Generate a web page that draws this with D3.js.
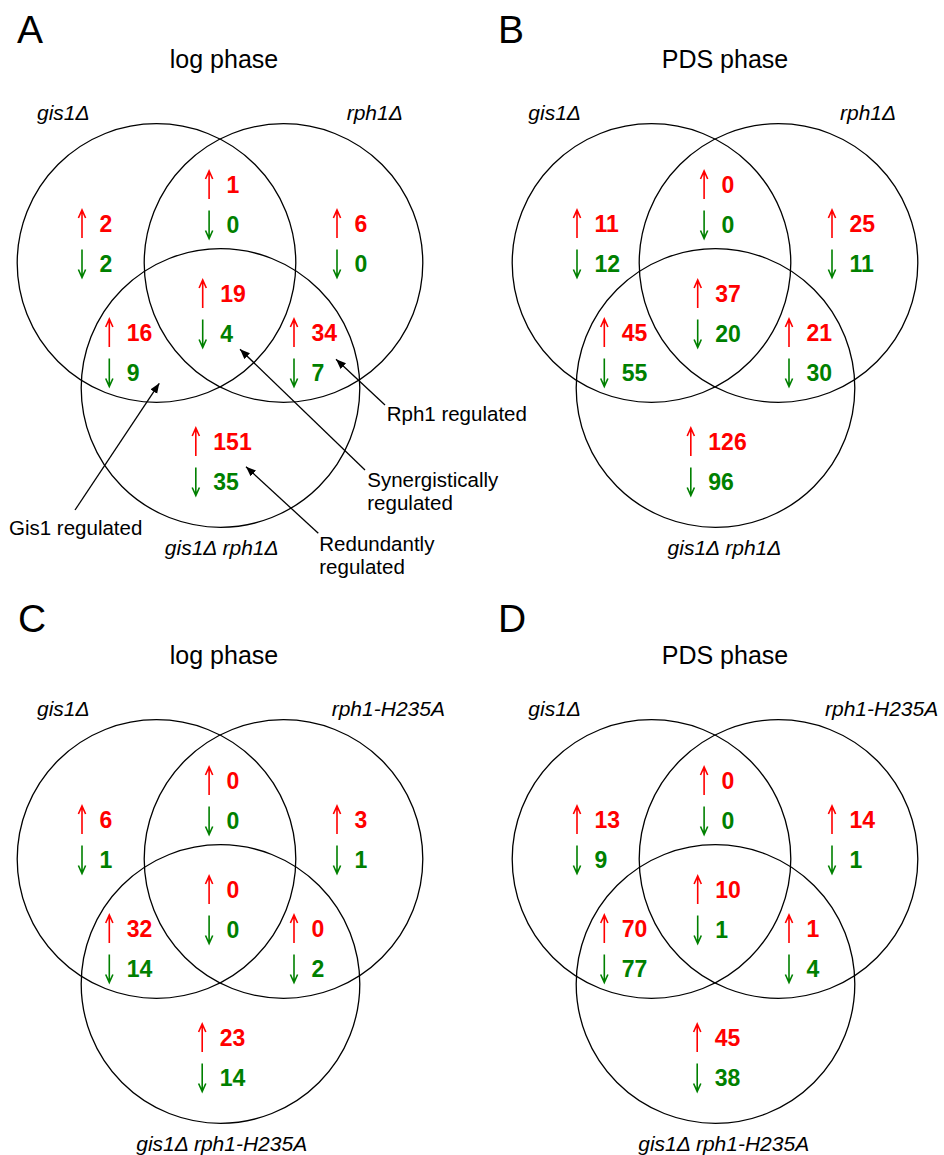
<!DOCTYPE html>
<html>
<head>
<meta charset="utf-8">
<script src="https://cdn.jsdelivr.net/npm/d3@7"></script>
<style>
  body { margin: 0; background: #fff; }
  svg { display: block; font-family: "Liberation Sans", Arial, sans-serif; }
</style>
</head>
<body>
<svg id="chart"></svg>
<script>
// panel texts
var letters = ["A", "B", "C", "D"];
var phases = ["log phase", "PDS phase", "log phase", "PDS phase"];
var set1Labels = ["gis1\u0394", "gis1\u0394", "gis1\u0394", "gis1\u0394"];
var set2Labels = ["rph1\u0394", "rph1\u0394", "rph1-H235A", "rph1-H235A"];
var set3Labels = ["gis1\u0394 rph1\u0394", "gis1\u0394 rph1\u0394", "gis1\u0394 rph1-H235A", "gis1\u0394 rph1-H235A"];

// regions: gis1 only, gis1+rph1, rph1 only, all three, gis1+double, rph1+double, double only
var regions = ["g", "gr", "r", "grd", "gd", "rd", "d"];
var upA = [2, 1, 6, 19, 16, 34, 151];
var downA = [2, 0, 0, 4, 9, 7, 35];
var upB = [11, 0, 25, 37, 45, 21, 126];
var downB = [12, 0, 11, 20, 55, 30, 96];
var upC = [6, 0, 3, 0, 32, 0, 23];
var downC = [1, 0, 1, 0, 14, 2, 14];
var upD = [13, 0, 14, 10, 70, 1, 45];
var downD = [9, 0, 1, 1, 77, 4, 38];
var upCounts = [upA, upB, upC, upD];
var downCounts = [downA, downB, downC, downD];

var W = 944, H = 1155;
var R = 139.3;
var RED = "#ff0000", GREEN = "#008000";

var svg = d3.select("#chart").attr("width", W).attr("height", H);

svg.append("defs").append("marker")
    .attr("id", "head")
    .attr("markerUnits", "userSpaceOnUse")
    .attr("markerWidth", 11).attr("markerHeight", 9)
    .attr("refX", 10).attr("refY", 4)
    .attr("orient", "auto")
    .append("path")
    .attr("d", "M0,0 L10,4 L0,8 Z")
    .attr("fill", "#000");

// layout of each panel (centre between the two top circles)
var layout = [
    { mx: 220, cy: 263, letterDx: -203, letterY: 43, titleDx: 4, l1: -183, l2: 126.7, l3: 1.7 },
    { mx: 715, cy: 263, letterDx: -217, letterY: 43, titleDx: 10, l1: -186.7, l2: 125, l3: 9.5 },
    { mx: 220, cy: 859, letterDx: -202, letterY: 632, titleDx: 4, l1: -183, l2: 111.7, l3: 1.7 },
    { mx: 715, cy: 859, letterDx: -217, letterY: 632, titleDx: 10, l1: -186.7, l2: 110, l3: 8.7 }
];

// circle centres relative to panel centre
var circles = [{ dx: -63.5, dy: 0 }, { dx: 63.5, dy: 0 }, { dx: 0.5, dy: 125 }];

// where the number blocks sit; "left" = arrow x fixed, "center" = block centred
var regionPos = [
    { x: -138, y: -31, align: "left" },
    { x: 2.5, y: -70, align: "center" },
    { x: 117, y: -31, align: "left" },
    { x: 2.5, y: 39, align: "center" },
    { x: -110.7, y: 78, align: "left" },
    { x: 74, y: 78, align: "left" },
    { x: 2, y: 187, align: "center" }
];
var rowGap = 39.5;

// annotations of panel A
var notes = [
    { lines: ["Gis1 regulated"], tx: -211, ty: 272, from: [-145, 247], to: [-60.7, 120.3] },
    { lines: ["Rph1 regulated"], tx: 166.7, ty: 158, from: [165, 142], to: [116, 96.3] },
    { lines: ["Synergistically", "regulated"], tx: 147.3, ty: 224, from: [145, 207], to: [20, 86.3] },
    { lines: ["Redundantly", "regulated"], tx: 99.3, ty: 288, from: [98.3, 270.3], to: [26, 203.7] }
];
var noteGap = 23;

function arrowPath(x, base, up) {
    var top = base - 22, bot = base + 6;
    if (up) {
        return "M" + x + "," + bot + "L" + x + "," + (top + 1) +
            "M" + (x - 3.6) + "," + (top + 8) + "L" + x + "," + top + "L" + (x + 3.6) + "," + (top + 8);
    }
    return "M" + x + "," + top + "L" + x + "," + (bot - 1) +
        "M" + (x - 3.6) + "," + (bot - 8) + "L" + x + "," + bot + "L" + (x + 3.6) + "," + (bot - 8);
}

letters.forEach(function(letter, p) {
    var L = layout[p];
    var x = d3.scaleLinear().domain([-220, 250]).range([L.mx - 220, L.mx + 250]);
    var y = d3.scaleLinear().domain([-263, 300]).range([L.cy - 263, L.cy + 300]);
    var g = svg.append("g");

    g.append("text")
        .attr("x", x(L.letterDx)).attr("y", L.letterY)
        .style("font-size", "39px")
        .text(letter);

    g.append("text")
        .attr("x", x(L.titleDx)).attr("y", y(-195))
        .attr("text-anchor", "middle")
        .style("font-size", "25px")
        .text(phases[p]);

    g.selectAll("circle").data(circles).enter().append("circle")
        .attr("cx", function(d) { return x(d.dx); })
        .attr("cy", function(d) { return y(d.dy); })
        .attr("r", R)
        .attr("fill", "none")
        .attr("stroke", "#000")
        .attr("stroke-width", 1.3);

    g.append("text")
        .attr("x", x(L.l1)).attr("y", y(-143))
        .style("font-size", "21px").style("font-style", "italic")
        .text(set1Labels[p]);
    g.append("text")
        .attr("x", x(L.l2)).attr("y", y(-143))
        .style("font-size", "21px").style("font-style", "italic")
        .text(set2Labels[p]);
    g.append("text")
        .attr("x", x(L.l3)).attr("y", y(292))
        .attr("text-anchor", "middle")
        .style("font-size", "21px").style("font-style", "italic")
        .text(set3Labels[p]);

    regions.forEach(function(reg, i) {
        var pos = regionPos[i];
        var rows = [
            { v: upCounts[p][i], up: true, color: RED, base: y(pos.y) },
            { v: downCounts[p][i], up: false, color: GREEN, base: y(pos.y + rowGap) }
        ];
        var nums = g.selectAll("text.n" + reg).data(rows).enter().append("text")
            .attr("class", "n" + reg)
            .attr("y", function(d) { return d.base; })
            .attr("fill", function(d) { return d.color; })
            .style("font-size", "23px")
            .style("font-weight", "bold")
            .text(function(d) { return d.v; });
        var w = d3.max(nums.nodes(), function(n) { return n.getComputedTextLength(); });
        var ax = pos.align === "left" ? x(pos.x) : x(pos.x) - 7 - w / 2;
        nums.attr("x", ax + 17.5);
        g.selectAll("path.a" + reg).data(rows).enter().append("path")
            .attr("class", "a" + reg)
            .attr("d", function(d) { return arrowPath(ax, d.base, d.up); })
            .attr("fill", "none")
            .attr("stroke", function(d) { return d.color; })
            .attr("stroke-width", 1.6);
    });

    if (p === 0) {
        notes.forEach(function(n) {
            g.append("line")
                .attr("x1", x(n.from[0])).attr("y1", y(n.from[1]))
                .attr("x2", x(n.to[0])).attr("y2", y(n.to[1]))
                .attr("stroke", "#000")
                .attr("stroke-width", 1.3)
                .attr("marker-end", "url(#head)");
            n.lines.forEach(function(t, k) {
                g.append("text")
                    .attr("x", x(n.tx)).attr("y", y(n.ty + k * noteGap))
                    .style("font-size", "20.5px")
                    .text(t);
            });
        });
    }
});
</script>
</body>
</html>
